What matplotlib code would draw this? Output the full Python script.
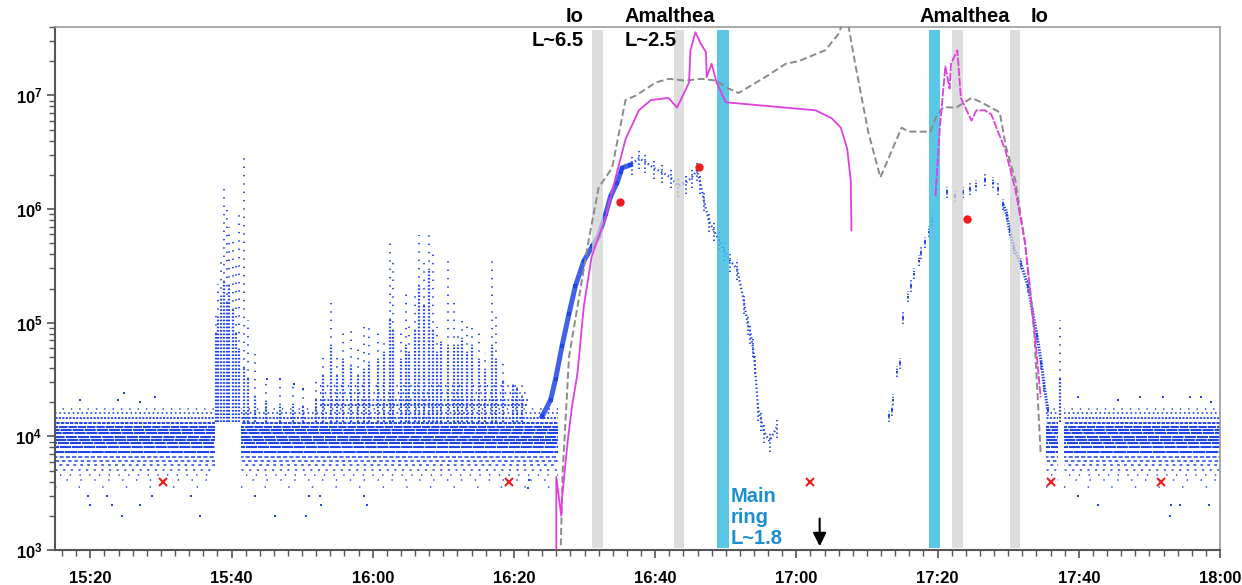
import numpy as np
import matplotlib
matplotlib.use('Agg')
import matplotlib.pyplot as plt
import matplotlib.transforms as mtransforms
from matplotlib.ticker import MultipleLocator, FuncFormatter, LogLocator, NullFormatter

plt.rcParams['font.family'] = ['Liberation Sans', 'DejaVu Sans']
plt.rcParams['mathtext.fontset'] = 'custom'
plt.rcParams['mathtext.rm'] = 'Liberation Sans:bold'
plt.rcParams['mathtext.it'] = 'Liberation Sans:bold'
plt.rcParams['mathtext.bf'] = 'Liberation Sans:bold'
plt.rcParams['lines.scale_dashes'] = False

# all times are minutes after 15:00

# quiet background: quantised count levels and the time spans where they show
band_segments = [(15.0, 37.6), (41.3, 86.2), (155.3, 157.0), (157.9, 180.0)]
band_levels = [3600, 4100, 4600, 5100, 5600, 6100, 6600, 7300, 8100, 8700,
               9300, 9900, 10600, 11400, 12100, 13200, 14400, 15900, 17300]
floor_segment = (52.5, 82.0)
floor_levels = [19000, 21000, 24000, 28000]

# isolated low / high points in the quiet band
low_t = [19.7, 22.3, 28.7, 34.2, 43.3, 51.0, 52.5, 58.8, 19.9, 23.1, 27.0, 52.7,
         59.2, 24.5, 35.5, 46.1, 50.6, 82.0, 82.1, 159.9, 162.7, 173.0, 174.4, 178.4, 172.9]
low_v = [3000, 3000, 3000, 3000, 3000, 3000, 3000, 3000, 2500, 2500, 2500, 2500,
         2500, 2000, 2000, 2000, 2000, 3500, 4100, 3000, 2500, 2500, 2500, 2500, 2000]
high_t = [18.5, 23.9, 24.8, 27.0, 29.1, 45.0, 46.8, 48.9, 50.1,
          159.9, 165.5, 168.6, 171.9, 175.7, 177.3, 178.7]
high_v = [21000, 21000, 24000, 20000, 22000, 32000, 32000, 29000, 26000,
          22000, 21000, 22000, 22000, 22000, 22000, 20000]

# bursts: time, top of dense part, top of sparse part
burst1_t = [37.8, 38.1, 38.5, 38.9, 39.3, 39.7, 40.2, 40.7, 41.1, 41.8, 42.3, 43.3, 44.9, 46.8, 48.7, 50.1]
burst1_dense = [7.9e4, 1.1e5, 1.7e5, 2.3e5, 1.5e5, 2.1e5, 1.3e5, 7.9e4, 5.8e4, 4.0e4, 3.2e4, 2.2e4,
                2.0e4, 1.9e4, 1.9e4, 1.8e4]
burst1_top = [1.3e5, 2.2e5, 3.8e5, 1.6e6, 9.8e5, 6.9e5, 5.4e5, 3.3e5, 9.1e5, 3.2e6, 1.05e5, 5.8e4,
              3.2e4, 3.0e4, 2.8e4, 2.6e4]
burst2_t = [52.0, 52.9, 54.1, 55.0, 55.8, 56.9, 57.9, 58.8, 59.5, 60.7, 61.6, 62.4, 62.9, 64.0,
            64.7, 65.2, 66.0, 66.6, 67.3, 68.0, 68.6, 69.1, 69.7, 70.6, 71.5, 72.1, 72.7, 73.4,
            74.1, 75.1, 75.9, 76.9, 77.4, 78.4, 79.8, 80.5, 81.2, 157.3]
burst2_dense = [2.1e4, 3.4e4, 6.2e4, 3.4e4, 4.7e4, 4.2e4, 3.4e4, 3.8e4, 4.4e4, 4.7e4, 5.4e4, 1.05e5,
                8.5e4, 4.7e4, 6.2e4, 5.4e4, 8.5e4, 2.1e5, 1.4e5, 2.9e5, 8.5e4, 5.4e4, 6.6e4, 6.2e4,
                6.2e4, 6.2e4, 7.2e4, 5.4e4, 6.2e4, 4.7e4, 3.8e4, 6.2e4, 4.7e4, 3.0e4, 2.75e4, 2.6e4,
                2.2e4, 3.2e4]
burst2_top = [3.2e4, 5.4e4, 1.5e5, 5.4e4, 8.5e4, 9.5e4, 6.2e4, 9.1e4, 9.5e4, 8.9e4, 7.2e4, 5.0e5,
              3.8e5, 8.5e4, 1.9e5, 1.05e5, 1.9e5, 5.9e5, 3.5e5, 5.9e5, 4.2e5, 9.1e4, 7.6e4, 3.5e5,
              1.7e5, 8.5e4, 1.05e5, 9.8e4, 9.8e4, 9.1e4, 5.4e4, 3.6e5, 1.2e5, 4.7e4, 3.2e4, 2.75e4,
              2.45e4, 1.05e5]

# inbound rise
rise_t = [84.0, 85.2, 85.9, 86.8, 87.8, 88.7, 89.9, 91.1, 92.0, 93.0, 93.7, 94.6, 95.1, 95.3, 96.5]
rise_v = [1.5e4, 2.1e4, 3.2e4, 6.2e4, 1.2e5, 2.1e5, 3.5e5, 4.7e5, 5.8e5, 9.1e5, 1.3e6, 1.7e6,
          2.1e6, 2.3e6, 2.45e6]
# plateau and fall after closest approach
plat_t = [96.7, 97.7, 98.6, 99.8, 101.0, 102.2, 103.3, 104.3, 105.2, 105.9, 106.4, 106.9, 107.6,
          108.3, 109.0, 109.7, 110.6, 111.6, 112.6, 113.1, 113.5, 113.8, 114.1, 114.6, 115.0,
          115.4, 116.2, 117.2]
plat_v = [2.5e6, 2.8e6, 2.6e6, 2.3e6, 2.1e6, 1.9e6, 1.6e6, 1.7e6, 1.9e6, 2.2e6, 1.7e6, 1.2e6,
          7.9e5, 6.5e5, 5.4e5, 4.4e5, 3.5e5, 3.0e5, 1.5e5, 9.8e4, 8.1e4, 6.3e4, 4.4e4, 1.7e4,
          1.4e4, 1.1e4, 9.1e3, 1.2e4]
# outbound
out_t = [133.1, 133.5, 133.7, 134.2, 134.7, 135.1, 135.8, 136.2, 136.7, 137.3, 137.7, 138.2, 138.8,
         139.2, 139.8, 141.3, 142.4, 143.6, 144.6, 145.5, 146.7, 147.9, 148.6, 149.3, 149.8,
         150.2, 150.8, 151.8, 152.8, 153.5, 154.1, 154.7, 155.1, 155.6]
out_v = [1.5e4, 1.7e4, 2.1e4, 3.7e4, 4.4e4, 1.1e5, 1.7e5, 2.1e5, 2.7e5, 3.5e5, 4.1e5, 5.1e5,
         6.3e5, 7.9e5, 1.5e6, 1.4e6, 1.3e6, 1.4e6, 1.5e6, 1.6e6, 1.8e6, 1.7e6, 1.5e6, 1.1e6,
         8.9e5, 6.5e5, 4.5e5, 3.3e5, 2.1e5, 1.2e5, 7.6e4, 4.4e4, 2.8e4, 1.7e4]

# model curves
mag1_t = [86.0, 86.0, 86.7, 86.8, 87.6, 88.2, 89.0, 89.9, 91.0, 93.0, 94.2, 95.8, 97.7, 99.4,
          101.9, 103.1, 104.8, 105.0, 105.7, 106.4, 107.2, 107.3, 108.0, 108.7, 110.0, 122.7,
          125.0, 126.3, 127.2, 127.7, 127.8]
mag1_v = [8.9e2, 4.4e3, 2.0e3, 2.8e3, 8.9e3, 1.8e4, 3.6e4, 1.4e5, 3.8e5, 8.5e5, 1.7e6, 4.1e6,
          7.4e6, 9.1e6, 9.5e6, 7.8e6, 1.3e7, 2.5e7, 3.6e7, 2.9e7, 2.4e7, 1.45e7, 1.9e7, 1.3e7,
          8.7e6, 7.4e6, 6.3e6, 5.2e6, 3.4e6, 1.8e6, 6.5e5]
mag2_t = [139.7, 140.3, 141.1, 141.7, 141.9, 142.8, 143.3, 144.8, 145.5, 146.7, 147.6, 149.6,
          151.0, 152.4, 153.7, 154.6]
mag2_v = [1.3e6, 5.0e6, 1.8e7, 1.15e7, 1.9e7, 2.5e7, 9.5e6, 6.0e6, 7.4e6, 7.4e6, 6.8e6, 3.3e6,
          1.5e6, 5.0e5, 8.9e4, 2.2e4]
gray_t = [86.6, 86.9, 87.8, 90.6, 92.0, 93.9, 95.8, 97.3, 100.1, 101.9, 104.3, 106.6, 108.6,
          110.4, 111.8, 115.6, 118.5, 120.3, 124.1, 126.0, 126.8, 127.4, 128.4, 130.2, 131.9,
          134.9, 135.9, 137.3, 139.0, 139.8, 140.8, 142.6, 144.8, 146.2, 148.8, 149.7, 151.0,
          152.4, 153.7, 154.6]
gray_v = [8.9e2, 4.8e3, 5.0e4, 5.4e5, 1.55e6, 2.3e6, 9.1e6, 1.0e7, 1.3e7, 1.4e7, 1.35e7, 1.4e7,
          1.35e7, 1.15e7, 1.05e7, 1.45e7, 1.9e7, 2.0e7, 2.5e7, 3.5e7, 4.8e7, 4.0e7, 1.8e7, 4.7e6,
          1.9e6, 5.2e6, 4.8e6, 4.8e6, 4.8e6, 6.5e6, 7.9e6, 7.8e6, 9.5e6, 8.7e6, 7.1e6, 3.5e6,
          1.8e6, 5.0e5, 8.0e4, 7.1e3]

# measured points
dot_t = [95.0, 106.2, 144.1]
dot_v = [1.15e6, 2.35e6, 8.1e5]
cross_t = [30.3, 79.3, 122.0, 156.0, 171.7]
cross_v = [4000, 4000, 4000, 4000, 4000]

# crossings: (start, end) in minutes
io_bands = [(91.0, 92.6), (150.2, 151.7)]
amalthea_bands = [(102.7, 104.1), (142.1, 143.6)]
ring_bands = [(108.8, 110.4), (138.8, 140.4)]
arrow_t = 123.3

BLUE = '#1f45e6'
MAG = '#e040e0'
GRAY = '#8a8a8a'

fig = plt.figure(figsize=(12.42, 5.85), dpi=100)
ax = fig.add_axes([55 / 1242, 35 / 585, 1165 / 1242, 523 / 585])
ax.set_yscale('log')
ax.set_xlim(15, 180)
ax.set_ylim(1e3, 4e7)

# quiet band
band_dashes = [(1, 16), (1, 9), (1, 6), (1.5, 4), (2, 3), (2.5, 2), (3, 1.5), (9, 0.5),
               (8, 0.6), (8, 0.7), (8, 0.6), (8, 0.8), (8, 0.6), (8, 0.7), (6, 0.7), (2.5, 0.8),
               (1.5, 1.0), (1.2, 2), (1, 5)]
band_widths = [1.1] * 7 + [1.5] * 8 + [1.4, 1.3, 1.2, 1.1]
for k in range(len(band_levels)):
    for t0, t1 in band_segments:
        ax.plot([t0, t1], [band_levels[k]] * 2, color=BLUE, lw=band_widths[k],
                ls=(k * 1.7, band_dashes[k]), zorder=2)
floor_dashes = [(1.5, 1.0), (1.2, 1.5), (1, 2.5), (1, 4)]
for lev, dsh in zip(floor_levels, floor_dashes):
    ax.plot(floor_segment, [lev, lev], color=BLUE, lw=1.3, ls=(0, dsh), zorder=2)
ax.plot(low_t, low_v, 's', color=BLUE, ms=1.6, mew=0, zorder=2)
ax.plot(high_t, high_v, 's', color=BLUE, ms=1.6, mew=0, zorder=2)

# bursts
for ts, ds, tops in [(burst1_t, burst1_dense, burst1_top), (burst2_t, burst2_dense, burst2_top)]:
    for t, d, top in zip(ts, ds, tops):
        ax.plot([t, t], [1.35e4, d], color=BLUE, lw=1.6, ls=(0, (1.2, 1.3)), zorder=2)
        ax.plot([t, t], [d, top], color=BLUE, lw=1.3, ls=(0, (1, 5)), zorder=2)

# inbound rise and plateau
ax.plot(rise_t, rise_v, color=BLUE, lw=3.6, alpha=0.85, zorder=2)
ax.plot(rise_t, rise_v, 's', color=BLUE, ms=2.5, mew=0, zorder=2)
plat_v = np.array(plat_v)
ax.plot(plat_t, plat_v, color=BLUE, lw=1.6, ls=(0, (1, 1.8)), zorder=2)
ax.vlines(plat_t, plat_v / 1.25, plat_v * 1.2, color=BLUE, lw=1.3, linestyles=[(0, (1, 2))], zorder=2)

# outbound
out_v = np.array(out_v)
ax.plot(out_t, out_v, 's', color=BLUE, ms=2, mew=0, zorder=2)
ax.vlines(out_t, out_v / 1.12, out_v * 1.12, color=BLUE, lw=1.2, linestyles=[(0, (1, 1.5))], zorder=2)
ax.plot(out_t[23:], out_v[23:], color=BLUE, lw=2.2, ls=(0, (1, 1)), zorder=2)

# crossing bands
for t0, t1 in io_bands + amalthea_bands:
    ax.axvspan(t0, t1, ymin=0.004, ymax=0.995, color='#d2d2d2', alpha=0.75, lw=0, zorder=3)
for t0, t1 in ring_bands:
    ax.axvspan(t0, t1, ymin=0.004, ymax=0.995, color='#3dbee2', alpha=0.85, lw=0, zorder=3)

# model curves
ax.plot(gray_t, gray_v, color=GRAY, lw=1.4, ls=(0, (5, 2.5)), zorder=4)
ax.plot(mag1_t, mag1_v, color=MAG, lw=1.3, zorder=4)
ax.plot(mag2_t, mag2_v, color=MAG, lw=1.3, ls=(0, (6, 1.2)), zorder=4)

ax.plot(dot_t, dot_v, 'o', color='#ee1c1c', ms=6, mew=0, zorder=5)
ax.plot(cross_t, cross_v, 'x', color='#ee1c1c', ms=6, mew=1.5, zorder=5)

ax.annotate('', xy=(arrow_t, 1.02e3), xytext=(arrow_t, 2.0e3),
            arrowprops=dict(arrowstyle='-|>', color='black', lw=1.5, mutation_scale=20), zorder=6)

# labels
trans = mtransforms.blended_transform_factory(ax.transData, ax.transAxes)
tkw = dict(transform=trans, fontsize=14.5, fontweight='bold', va='center', clip_on=False)
ax.text(89.9, 1.021, 'Io', ha='right', **tkw)
ax.text(89.9, 0.975, 'L~6.5', ha='right', **tkw)
ax.text(95.7, 1.021, 'Amalthea', ha='left', **tkw)
ax.text(95.7, 0.975, 'L~2.5', ha='left', **tkw)
ax.text(137.5, 1.021, 'Amalthea', ha='left', **tkw)
ax.text(153.2, 1.021, 'Io', ha='left', **tkw)
ax.text(110.7, 0.004, 'Main\nring\nL~1.8', transform=trans, fontsize=14.5, fontweight='bold',
        color='#1b8fd0', ha='left', va='bottom', linespacing=1.12, zorder=6)

# axes styling
for side in ['left', 'bottom']:
    ax.spines[side].set_color('#555555')
    ax.spines[side].set_linewidth(1.5)
for side in ['top', 'right']:
    ax.spines[side].set_color('#999999')
    ax.spines[side].set_linewidth(1.2)

ax.xaxis.set_major_locator(MultipleLocator(20))
ax.xaxis.set_minor_locator(MultipleLocator(2))
ax.xaxis.set_major_formatter(FuncFormatter(lambda m, p: '%d:%02d' % (15 + int(m) // 60, int(m) % 60)))
ax.yaxis.set_major_locator(LogLocator(base=10, numticks=10))
ax.yaxis.set_minor_locator(LogLocator(base=10, subs=np.arange(2, 10), numticks=10))
ax.yaxis.set_minor_formatter(NullFormatter())
ax.yaxis.set_major_formatter(FuncFormatter(lambda v, p: r'$\mathbf{10^{%d}}$' % round(np.log10(v))))
ax.tick_params(axis='both', which='major', direction='out', length=6, width=1.2, color='#555555',
               labelsize=12)
ax.tick_params(axis='both', which='minor', direction='out', length=4, width=1, color='#555555')
ax.tick_params(axis='x', which='major', pad=9)
ax.tick_params(axis='y', which='major', pad=3)
for lab in ax.get_xticklabels():
    lab.set_fontweight('bold')

fig.savefig('out.png', dpi=100)
